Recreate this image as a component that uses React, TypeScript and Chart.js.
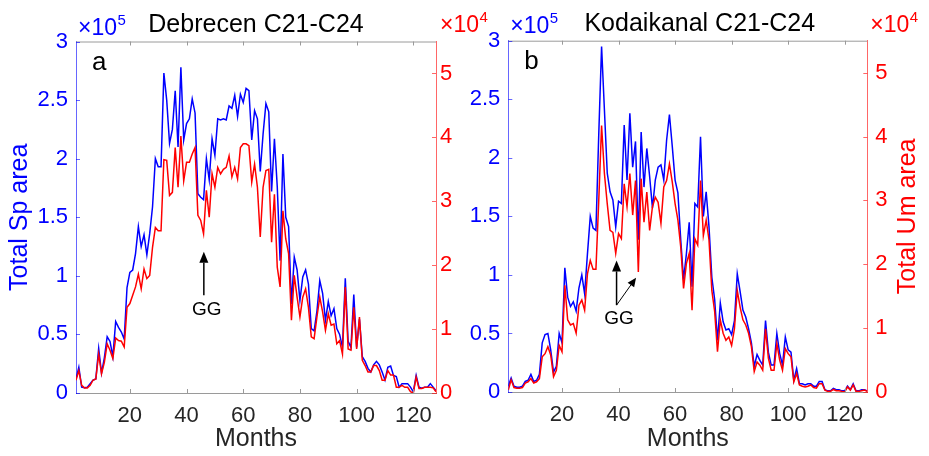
import React, { useEffect, useRef } from "react";
import { Chart, registerables } from "chart.js";

Chart.register(...registerables);

const FONT = "'Liberation Sans', Arial, Helvetica, sans-serif";

// x categories: months 1..128
const monthCount = 128;
const months = Array.from({ length: monthCount }, (_, i) => i + 1);
const xTicks = [20, 40, 60, 80, 100, 120];
const spTicks = [0, 0.5, 1, 1.5, 2, 2.5, 3];
const umTicks = [0, 1, 2, 3, 4, 5];

// Debrecen — total spot area (units of 10^5)
const debSp = [
  0.12, 0.22, 0.05, 0.045, 0.05, 0.08, 0.11, 0.12, 0.38, 0.17,
  0.30, 0.48, 0.44, 0.31, 0.61, 0.56, 0.52, 0.46, 0.90, 1.03,
  1.05, 1.19, 1.42, 1.25, 1.35, 1.18, 1.36, 1.59, 2.00, 1.93,
  1.93, 2.73, 2.50, 2.13, 2.25, 2.58, 2.10, 2.78, 2.16, 2.30,
  2.34, 2.51, 2.39, 1.70, 1.67, 1.65, 2.00, 1.82, 2.17, 2.03,
  2.34, 2.33, 2.34, 2.33, 2.45, 2.43, 2.54, 2.36, 2.55, 2.48,
  2.60, 2.58, 2.16, 2.41, 2.34, 1.89, 2.21, 2.47, 2.40, 1.72,
  2.17, 1.76, 1.13, 2.04, 1.50, 1.42, 0.76, 1.16, 1.05, 0.79,
  0.99, 1.05, 0.93, 0.55, 0.53, 0.70, 0.96, 0.85, 0.62, 0.78,
  0.66, 0.72, 0.55, 0.50, 0.39, 0.98, 0.44, 0.39, 0.84, 0.39,
  0.63, 0.31, 0.27, 0.21, 0.18, 0.24, 0.27, 0.24, 0.18, 0.11,
  0.22, 0.23, 0.15, 0.14, 0.05, 0.08, 0.08, 0.08, 0.05, 0.01,
  0.15, 0.05, 0.04, 0.05, 0.05, 0.08, 0.05, 0.02,
];

// Debrecen — total umbra area (units of 10^4)
const debUm = [
  0.20, 0.35, 0.12, 0.08, 0.08, 0.12, 0.20, 0.22, 0.61, 0.30,
  0.48, 0.77, 0.67, 0.54, 0.86, 0.82, 0.81, 0.72, 1.34, 1.40,
  1.53, 1.66, 1.86, 1.63, 1.94, 1.79, 1.84, 2.28, 2.59, 2.54,
  2.54, 3.65, 3.64, 3.09, 3.14, 3.84, 3.22, 4.02, 3.32, 3.61,
  3.61, 3.74, 3.84, 2.78, 2.70, 2.49, 3.17, 2.75, 3.43, 3.22,
  3.53, 3.43, 3.50, 3.53, 3.71, 3.38, 3.53, 3.35, 3.84, 3.90,
  3.90, 3.87, 3.30, 3.58, 3.22, 2.44, 3.22, 3.48, 3.50, 2.36,
  3.11, 1.97, 1.66, 2.85, 2.41, 2.18, 1.14, 1.84, 1.50, 1.19,
  1.50, 1.63, 1.34, 0.88, 0.85, 1.19, 1.50, 1.27, 0.98, 1.24,
  1.06, 1.08, 0.77, 0.82, 0.61, 1.66, 0.69, 0.67, 1.34, 0.69,
  1.19, 0.51, 0.43, 0.33, 0.33, 0.43, 0.43, 0.35, 0.20, 0.20,
  0.35, 0.28, 0.28, 0.09, 0.09, 0.12, 0.09, 0.09, 0.02, 0.00,
  0.25, 0.07, 0.07, 0.09, 0.09, 0.09, 0.08, 0.02,
];

// Kodaikanal — total spot area (units of 10^5)
const kodSp = [
  0.05, 0.12, 0.05, 0.04, 0.04, 0.05, 0.09, 0.10, 0.15, 0.09,
  0.10, 0.15, 0.42, 0.49, 0.50, 0.36, 0.17, 0.22, 0.50, 0.42,
  1.06, 0.81, 0.73, 0.77, 0.69, 0.89, 1.00, 0.84, 1.18, 1.50,
  1.40, 1.38, 2.20, 2.95, 2.41, 1.87, 1.71, 1.64, 1.41, 1.63,
  1.61, 2.28, 1.81, 2.38, 1.92, 2.14, 1.30, 2.22, 1.75, 2.08,
  1.84, 1.57, 1.81, 1.92, 1.94, 1.81, 2.15, 2.37, 2.10, 1.81,
  1.70, 1.30, 0.96, 1.18, 1.45, 0.90, 1.61, 1.58, 2.18, 1.50,
  1.71, 1.41, 0.98, 0.79, 0.44, 0.76, 0.60, 0.53, 0.54, 0.49,
  0.61, 1.01, 0.86, 0.70, 0.64, 0.54, 0.42, 0.22, 0.32, 0.27,
  0.23, 0.61, 0.34, 0.23, 0.23, 0.50, 0.33, 0.23, 0.47, 0.36,
  0.34, 0.10, 0.20, 0.07, 0.07, 0.06, 0.07, 0.07, 0.05, 0.05,
  0.09, 0.09, 0.02, 0.01, 0.01, 0.03, 0.02, 0.02, 0.01, 0.01,
  0.05, 0.02, 0.07, 0.01, 0.01, 0.02, 0.02, 0.01,
];

// Kodaikanal — total umbra area (units of 10^4)
const kodUm = [
  0.03, 0.19, 0.07, 0.06, 0.06, 0.07, 0.14, 0.16, 0.21, 0.14,
  0.16, 0.21, 0.55, 0.60, 0.71, 0.58, 0.24, 0.34, 0.73, 0.63,
  1.67, 1.13, 1.05, 1.07, 0.92, 1.36, 1.44, 1.28, 1.85, 2.06,
  1.92, 1.92, 3.00, 4.17, 3.42, 2.95, 2.53, 2.50, 2.17, 2.48,
  2.40, 3.26, 2.90, 3.42, 2.77, 3.31, 1.88, 3.34, 2.66, 3.13,
  2.53, 2.90, 3.05, 2.97, 2.64, 3.21, 3.31, 3.57, 3.29, 2.95,
  2.69, 2.27, 1.62, 2.01, 2.17, 1.28, 2.40, 2.30, 3.31, 2.45,
  2.69, 2.38, 1.59, 1.26, 0.63, 1.13, 0.92, 0.81, 0.86, 0.73,
  0.99, 1.59, 1.33, 1.13, 1.05, 0.92, 0.71, 0.32, 0.47, 0.42,
  0.34, 0.99, 0.53, 0.34, 0.34, 0.76, 0.50, 0.34, 0.68, 0.60,
  0.55, 0.16, 0.29, 0.11, 0.09, 0.08, 0.09, 0.11, 0.07, 0.06,
  0.13, 0.13, 0.03, 0.01, 0.01, 0.04, 0.02, 0.02, 0.01, 0.00,
  0.08, 0.03, 0.11, 0.01, 0.01, 0.02, 0.03, 0.01,
];

const BLUE = "#0000ff";
const RED = "#ff0000";
const AXIS_GREY = "#9a9a9a";
const TEXT_DARK = "#262626";

type Arrow = { x0: number; y0: number; x1: number; y1: number; w: number; head: number; half: number };
type Panel = {
  title: string;
  titleDx: number;
  titleDy: number;
  letter: string;
  sp: number[];
  um: number[];
  padding: { left: number; right: number; top: number; bottom: number };
  yWidth: number;
  y1Width: number;
  xHeight: number;
  leftTitle: string;
  rightTitle: string;
  y1Pad: number;
  spExp: { dx: number; dy: number };
  umExp: { dx: number; dy: number };
  gg: { x: number; y: number };
  arrows: Arrow[];
};

const panelA: Panel = {
  title: "Debrecen C21-C24",
  titleDx: 0,
  titleDy: -9.8,
  letter: "a",
  sp: debSp,
  um: debUm,
  padding: { left: 0, right: 453, top: 41.5, bottom: 0 },
  yWidth: 76,
  y1Width: 40,
  xHeight: 63,
  leftTitle: "Total Sp area",
  rightTitle: "",
  y1Pad: 4,
  spExp: { dx: 2, dy: -6.5 },
  umExp: { dx: 4, dy: -9.5 },
  gg: { x: 47.1, y: 1.22 },
  arrows: [{ x0: 46.1, y0: 1.53, x1: 46.1, y1: 2.21, w: 1.5, head: 11, half: 4.5 }],
};

const panelB: Panel = {
  title: "Kodaikanal C21-C24",
  titleDx: 12,
  titleDy: -10,
  letter: "b",
  sp: kodSp,
  um: kodUm,
  padding: { left: 432.3, right: 0, top: 40.7, bottom: 0 },
  yWidth: 76,
  y1Width: 61.7,
  xHeight: 64,
  leftTitle: "",
  rightTitle: "Total Um area",
  y1Pad: 8,
  spExp: { dx: 2, dy: -7.4 },
  umExp: { dx: 3, dy: -9 },
  gg: { x: 40.2, y: 1.06 },
  arrows: [
    { x0: 39.3, y0: 1.36, x1: 39.3, y1: 2.06, w: 1.5, head: 11, half: 4.5 },
    { x0: 39.3, y0: 1.36, x1: 46.2, y1: 1.79, w: 1, head: 9, half: 4 },
  ],
};

function drawExp(ctx: CanvasRenderingContext2D, x: number, yBase: number, sup: string, color: string) {
  ctx.fillStyle = color;
  ctx.textAlign = "left";
  ctx.textBaseline = "alphabetic";
  ctx.font = `23px ${FONT}`;
  ctx.fillText("\u00d710", x, yBase);
  const w = ctx.measureText("\u00d710").width;
  ctx.font = `15px ${FONT}`;
  ctx.fillText(sup, x + w + 0.5, yBase - 10);
}

function drawArrow(ctx: CanvasRenderingContext2D, x0: number, y0: number, x1: number, y1: number, w: number, head: number, half: number) {
  const ang = Math.atan2(y1 - y0, x1 - x0);
  const bx = x1 - head * Math.cos(ang);
  const by = y1 - head * Math.sin(ang);
  ctx.strokeStyle = "#000";
  ctx.fillStyle = "#000";
  ctx.lineWidth = w;
  ctx.beginPath();
  ctx.moveTo(x0, y0);
  ctx.lineTo(bx, by);
  ctx.stroke();
  ctx.beginPath();
  ctx.moveTo(x1, y1);
  ctx.lineTo(bx + half * Math.sin(ang), by - half * Math.cos(ang));
  ctx.lineTo(bx - half * Math.sin(ang), by + half * Math.cos(ang));
  ctx.closePath();
  ctx.fill();
}

function makeDecor(p: Panel) {
  return {
    id: "decor" + p.letter,
    afterDraw(chart: any) {
      const { ctx, chartArea: ca, scales } = chart;
      const sx = scales.x;
      const sy = scales.y;
      const sy1 = scales.y1;
      ctx.save();
      // top box edge
      ctx.strokeStyle = AXIS_GREY;
      ctx.lineWidth = 1;
      ctx.beginPath();
      ctx.moveTo(ca.left, ca.top + 0.5);
      ctx.lineTo(ca.right, ca.top + 0.5);
      ctx.stroke();
      // inward x tick marks (bottom and top)
      ctx.beginPath();
      for (const v of xTicks) {
        const px = Math.round(sx.getPixelForValue(v)) + 0.5;
        ctx.moveTo(px, ca.bottom);
        ctx.lineTo(px, ca.bottom - 4);
        ctx.moveTo(px, ca.top);
        ctx.lineTo(px, ca.top + 4);
      }
      ctx.stroke();
      // inward left ticks
      ctx.strokeStyle = "rgba(0,0,255,0.6)";
      ctx.beginPath();
      for (const v of spTicks) {
        const py = Math.round(sy.getPixelForValue(v)) + 0.5;
        ctx.moveTo(ca.left, py);
        ctx.lineTo(ca.left + 4, py);
      }
      ctx.stroke();
      // inward right ticks
      ctx.strokeStyle = "rgba(255,0,0,0.6)";
      ctx.beginPath();
      for (const v of umTicks) {
        const py = Math.round(sy1.getPixelForValue(v)) + 0.5;
        ctx.moveTo(ca.right, py);
        ctx.lineTo(ca.right - 4, py);
      }
      ctx.stroke();

      // title
      ctx.fillStyle = "#000";
      ctx.font = `25px ${FONT}`;
      ctx.textAlign = "center";
      ctx.textBaseline = "alphabetic";
      ctx.fillText(p.title, (ca.left + ca.right) / 2 + p.titleDx, ca.top + p.titleDy);

      // exponent labels
      drawExp(ctx, ca.left + p.spExp.dx, ca.top + p.spExp.dy, "5", BLUE);
      drawExp(ctx, ca.right + p.umExp.dx, ca.top + p.umExp.dy, "4", RED);

      // panel letter
      ctx.fillStyle = "#000";
      ctx.font = `26px ${FONT}`;
      ctx.textAlign = "left";
      ctx.textBaseline = "alphabetic";
      ctx.fillText(p.letter, ca.left + 16, ca.top + 28.5);

      // GG annotation
      for (const a of p.arrows) {
        drawArrow(
          ctx,
          sx.getPixelForValue(a.x0),
          sy1.getPixelForValue(a.y0),
          sx.getPixelForValue(a.x1),
          sy1.getPixelForValue(a.y1),
          a.w,
          a.head,
          a.half
        );
      }
      ctx.fillStyle = "#000";
      ctx.font = `19px ${FONT}`;
      ctx.textAlign = "center";
      ctx.textBaseline = "alphabetic";
      ctx.fillText("GG", sx.getPixelForValue(p.gg.x), sy1.getPixelForValue(p.gg.y));

      // right axis title (reads bottom-to-top)
      if (p.rightTitle) {
        ctx.save();
        ctx.translate(ca.right + 41, (ca.top + ca.bottom) / 2);
        ctx.rotate(-Math.PI / 2);
        ctx.fillStyle = RED;
        ctx.font = `25px ${FONT}`;
        ctx.textAlign = "center";
        ctx.textBaseline = "middle";
        ctx.fillText(p.rightTitle, 0, 0);
        ctx.restore();
      }
      ctx.restore();
    },
  };
}

function makeConfig(p: Panel): any {
  return {
    type: "line",
    data: {
      datasets: [
        {
          label: "Total Um area",
          data: p.um.map((v, i) => ({ x: months[i], y: v })),
          yAxisID: "y1",
          borderColor: RED,
          borderWidth: 1.5,
          pointRadius: 0,
          tension: 0,
          fill: false,
        },
        {
          label: "Total Sp area",
          data: p.sp.map((v, i) => ({ x: months[i], y: v })),
          yAxisID: "y",
          borderColor: BLUE,
          borderWidth: 1.5,
          pointRadius: 0,
          tension: 0,
          fill: false,
        },
      ],
    },
    options: {
      animation: false,
      responsive: false,
      devicePixelRatio: 1,
      layout: { padding: p.padding },
      plugins: { legend: { display: false }, tooltip: { enabled: false }, title: { display: false } },
      scales: {
        x: {
          type: "linear",
          min: 1,
          max: 128,
          afterBuildTicks: (s: any) => {
            s.ticks = xTicks.map((v) => ({ value: v }));
          },
          afterFit: (s: any) => {
            s.height = p.xHeight;
          },
          grid: { display: false, drawTicks: false, tickLength: 0 },
          border: { display: true, color: AXIS_GREY, width: 1 },
          ticks: {
            color: TEXT_DARK,
            font: { family: FONT, size: 22 },
            padding: 10,
            maxRotation: 0,
            autoSkip: false,
            callback: (v: any) => String(v),
          },
          title: {
            display: true,
            text: "Months",
            color: TEXT_DARK,
            font: { family: FONT, size: 25 },
            padding: { top: 0, bottom: 2 },
          },
        },
        y: {
          type: "linear",
          position: "left",
          min: 0,
          max: 3,
          afterBuildTicks: (s: any) => {
            s.ticks = spTicks.map((v) => ({ value: v }));
          },
          afterFit: (s: any) => {
            s.width = p.yWidth;
          },
          grid: { display: false, drawTicks: false, tickLength: 0 },
          border: { display: true, color: "rgba(0,0,255,0.6)", width: 1 },
          ticks: {
            color: BLUE,
            font: { family: FONT, size: 22 },
            padding: 8,
            autoSkip: false,
            callback: (v: any) => String(v),
          },
          title: {
            display: !!p.leftTitle,
            text: p.leftTitle,
            color: BLUE,
            font: { family: FONT, size: 25 },
            padding: { top: 5, bottom: 0 },
          },
        },
        y1: {
          type: "linear",
          position: "right",
          min: 0,
          max: 5.5,
          afterBuildTicks: (s: any) => {
            s.ticks = umTicks.map((v) => ({ value: v }));
          },
          afterFit: (s: any) => {
            s.width = p.y1Width;
          },
          grid: { display: false, drawTicks: false, tickLength: 0 },
          border: { display: true, color: "rgba(255,0,0,0.6)", width: 1 },
          ticks: {
            color: RED,
            font: { family: FONT, size: 22 },
            padding: p.y1Pad,
            autoSkip: false,
            callback: (v: any) => String(v),
          },
          title: { display: false },
        },
      },
    },
    plugins: [makeDecor(p)],
  };
}

export default function App() {
  const refA = useRef<HTMLCanvasElement>(null);
  const refB = useRef<HTMLCanvasElement>(null);

  useEffect(() => {
    const charts: Chart[] = [];
    if (refA.current) charts.push(new Chart(refA.current, makeConfig(panelA)));
    if (refB.current) charts.push(new Chart(refB.current, makeConfig(panelB)));
    return () => {
      charts.forEach((c) => c.destroy());
    };
  }, []);

  const canvasStyle: React.CSSProperties = {
    position: "absolute",
    left: 0,
    top: 0,
    width: 929,
    height: 456,
  };

  return (
    <div style={{ position: "fixed", left: 0, top: 0, width: 929, height: 456, background: "#fff", overflow: "hidden" }}>
      <canvas ref={refA} width={929} height={456} style={canvasStyle} />
      <canvas ref={refB} width={929} height={456} style={canvasStyle} />
    </div>
  );
}
